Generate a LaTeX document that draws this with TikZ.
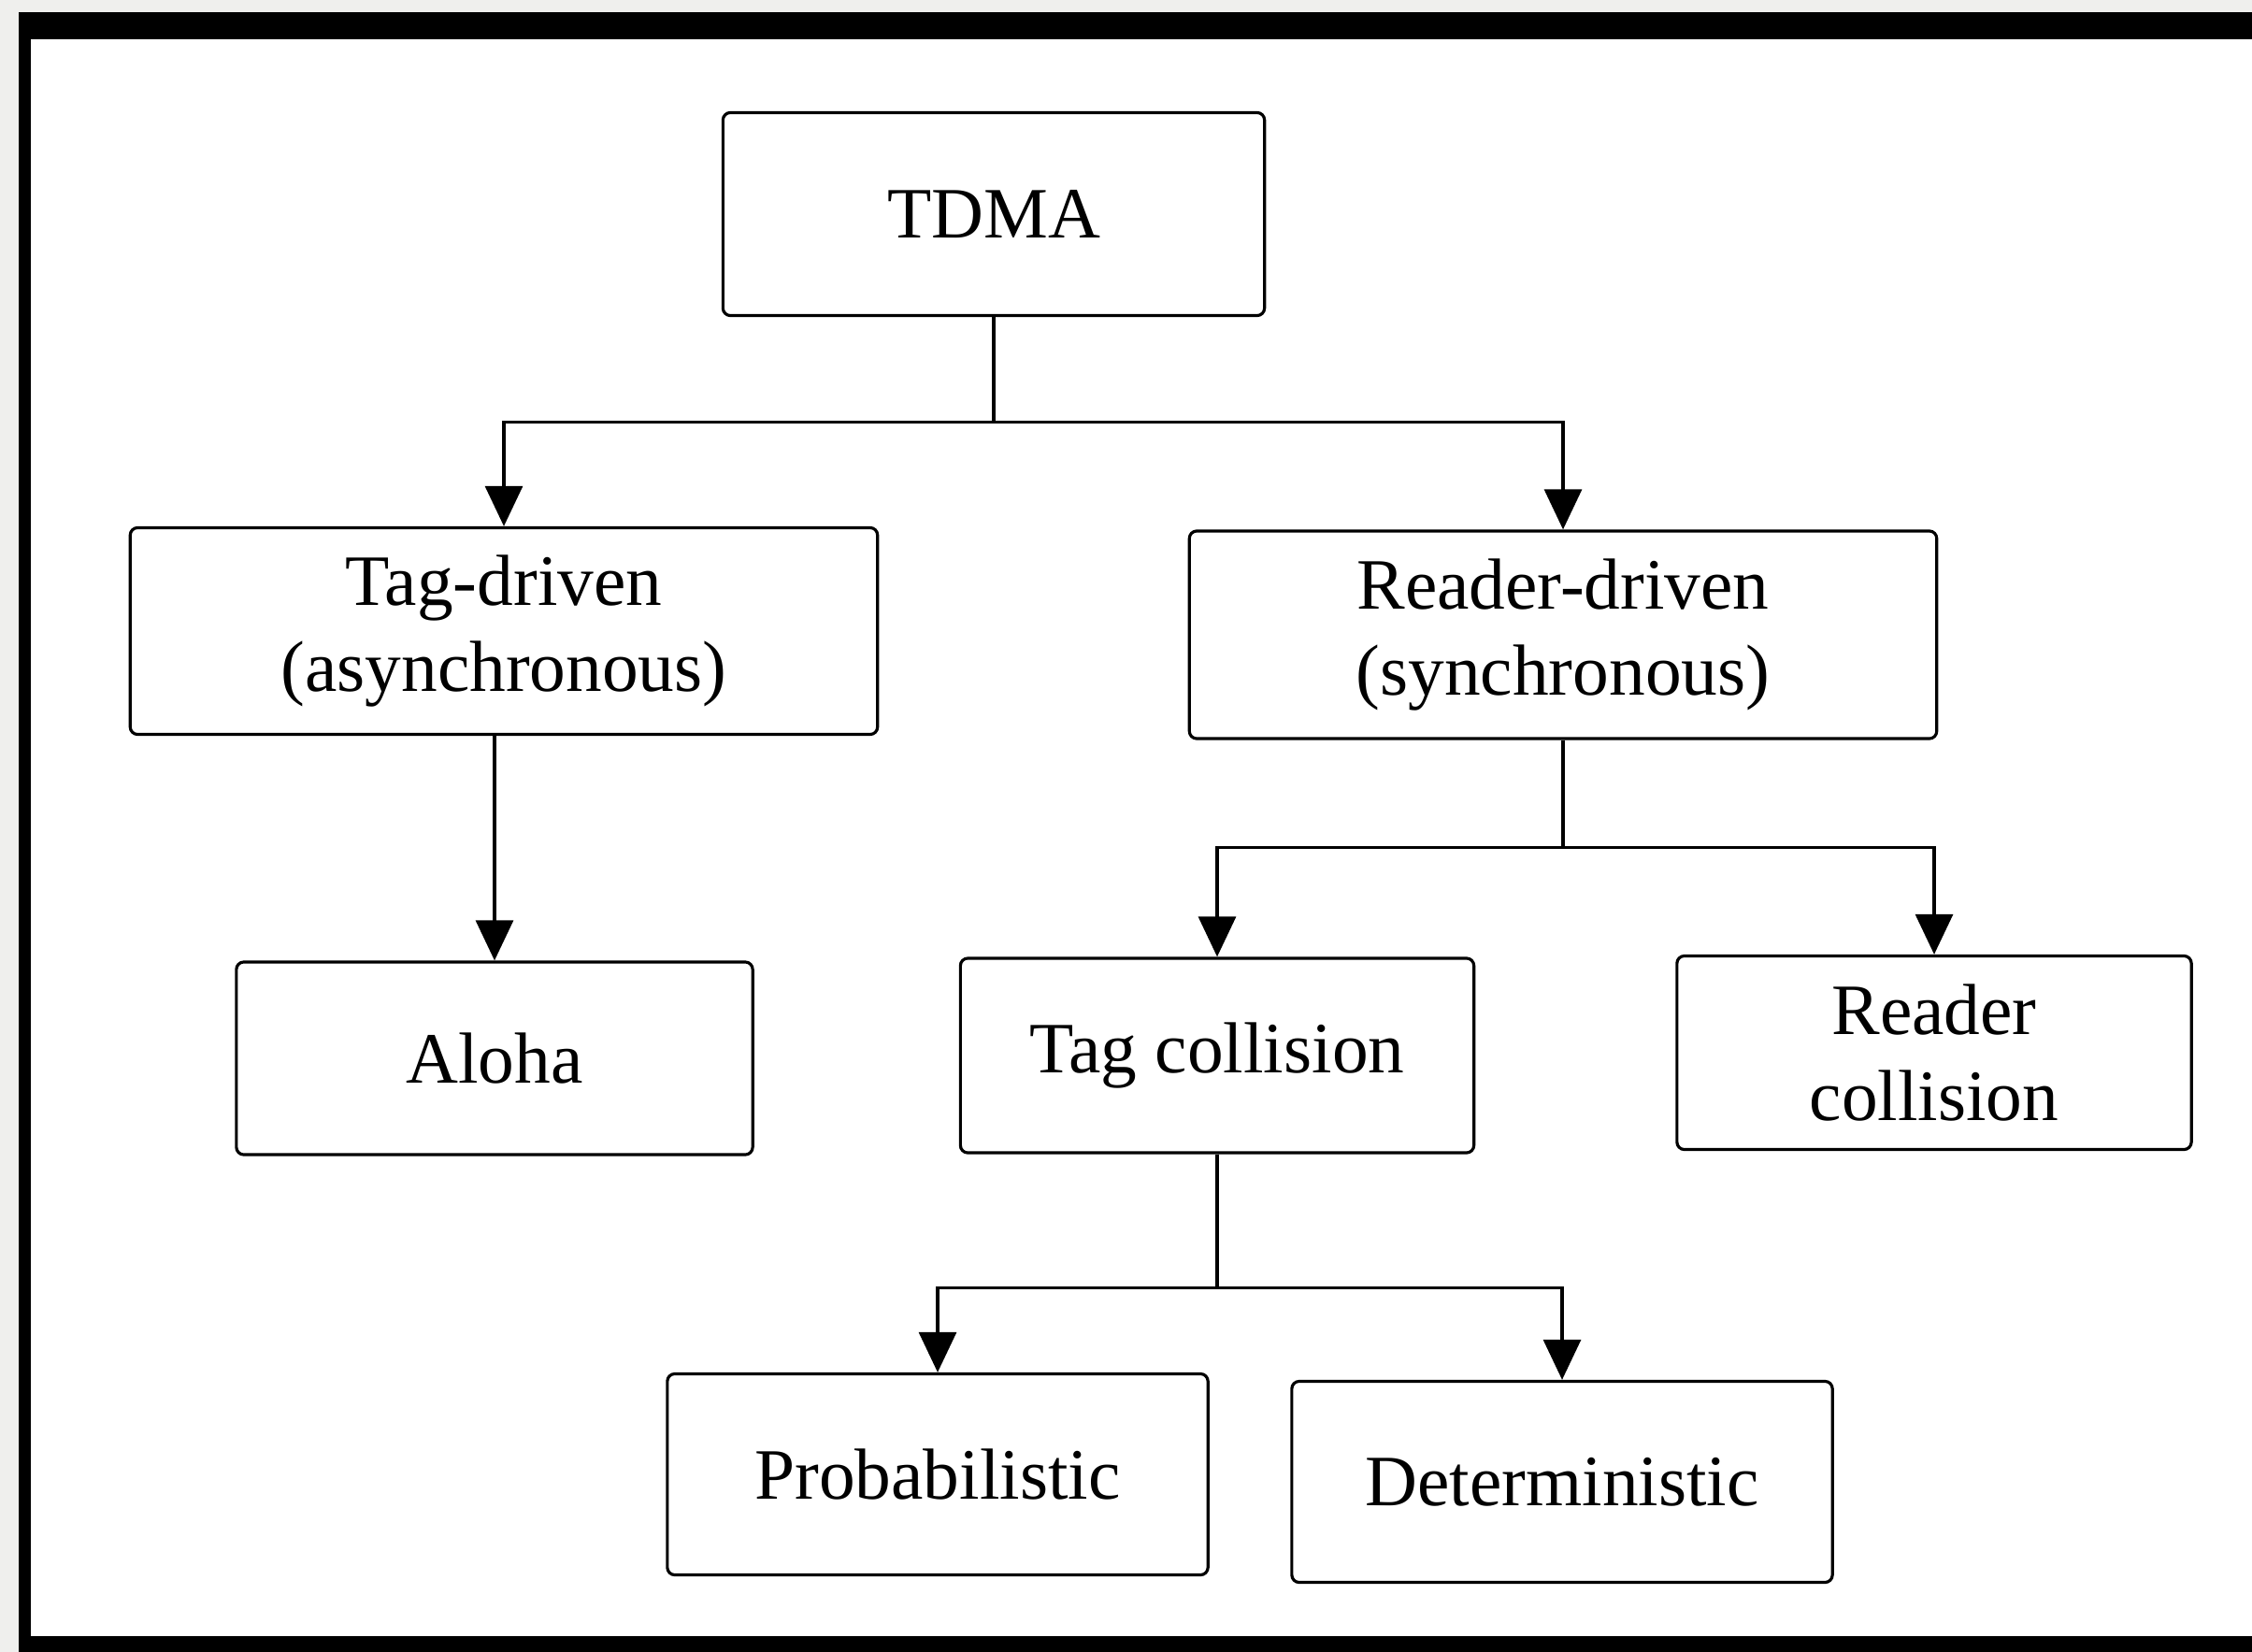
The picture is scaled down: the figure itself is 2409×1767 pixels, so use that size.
\documentclass[tikz,border=0pt]{standalone}
\usepackage{fontspec}
\setmainfont{Liberation Serif}
\usetikzlibrary{arrows.meta}
\definecolor{paper}{HTML}{EFEFED}
\tikzset{
  box/.style={draw, rounded corners=0.08cm, line width=0.9pt, align=center,
    inner sep=0pt, font=\fontsize{22}{26}\selectfont},
  arr/.style={line width=0.9pt, -{Triangle[width=0.4cm, length=0.43cm]}}
}
\begin{document}
\begin{tikzpicture}[x=0.01cm, y=-0.01cm]
            \useasboundingbox (0,0) rectangle (2409,1767);
            % frame
            \fill[paper] (0,0) rectangle (2409,1767);
            \fill[black] (20,13) rectangle (2409,1767);
            \fill[white] (33,42) rectangle (2409,1750);
            % boxes
            \node[box, minimum width=5.79cm, minimum height=2.17cm] (1) at (1063,229) {TDMA};
            \node[box, minimum width=7.99cm, minimum height=2.21cm] (2) at (539,675) {Tag-driven\\(asynchronous)};
            \node[box, minimum width=7.99cm, minimum height=2.22cm] (3) at (1672,679) {Reader-driven\\(synchronous)};
            \node[box, minimum width=5.52cm, minimum height=2.06cm] (4) at (529,1132) {Aloha};
            \node[box, minimum width=5.49cm, minimum height=2.08cm] (5) at (1302,1129) {Tag collision};
            \node[box, minimum width=5.50cm, minimum height=2.07cm] (6) at (2069,1126) {Reader\\collision};
            \node[box, minimum width=5.78cm, minimum height=2.15cm] (7) at (1003,1577) {Probabilistic};
            \node[box, minimum width=5.78cm, minimum height=2.15cm] (8) at (1671,1585) {Deterministic};
            % connectors
            \draw[arr] (1.south) -- ++(0,112) -| (2.north);
            \draw[arr] (1.south) -- ++(0,112) -| (3.north);
            \draw[arr] (2.south -| 4.north) -- (4.north);
            \draw[arr] (3.south) -- ++(0,115) -| (5.north);
            \draw[arr] (3.south) -- ++(0,115) -| (6.north);
            \draw[arr] (5.south) -- ++(0,143) -| (7.north);
            \draw[arr] (5.south) -- ++(0,143) -| (8.north);
        \end{tikzpicture}
\end{document}
